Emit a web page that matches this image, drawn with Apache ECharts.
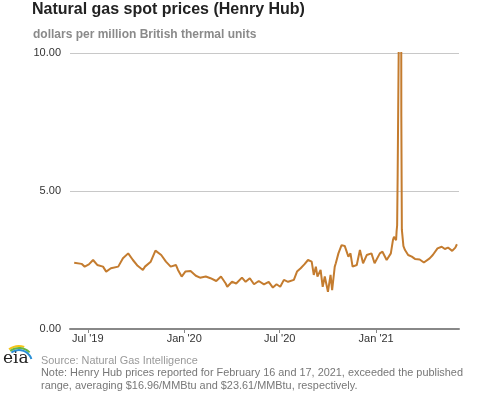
<!DOCTYPE html>
<html><head><meta charset="utf-8">
<script src="https://cdn.jsdelivr.net/npm/echarts@6/dist/echarts.min.js"></script>
<style>html,body{margin:0;padding:0;background:#fff}#c{width:477px;height:393px}</style>
</head><body><div id="c"></div>
<script>
const dates = [
'2019-06-05','2019-06-19','2019-06-25','2019-07-03','2019-07-11','2019-07-19','2019-07-30','2019-08-05','2019-08-14','2019-08-28',
'2019-09-06','2019-09-16','2019-09-25','2019-10-04','2019-10-14','2019-10-18','2019-10-29','2019-11-07','2019-11-18','2019-11-27',
'2019-12-06','2019-12-16','2019-12-20','2019-12-27','2020-01-03','2020-01-13','2020-01-23','2020-01-31','2020-02-11','2020-02-20',
'2020-03-02','2020-03-11','2020-03-20','2020-03-23','2020-04-01','2020-04-09','2020-04-20','2020-04-27','2020-05-05','2020-05-13',
'2020-05-22','2020-06-01','2020-06-10','2020-06-18','2020-06-25','2020-07-02','2020-07-09','2020-07-17','2020-07-28','2020-08-03',
'2020-08-10','2020-08-17','2020-08-24','2020-08-31','2020-09-04','2020-09-08','2020-09-11','2020-09-17','2020-09-21','2020-09-25',
'2020-10-01','2020-10-06','2020-10-09','2020-10-14','2020-10-16','2020-10-21','2020-10-27','2020-11-02','2020-11-09','2020-11-13',
'2020-11-17','2020-11-25','2020-12-01','2020-12-07','2020-12-14','2020-12-23','2020-12-29','2021-01-08','2021-01-13','2021-01-21',
'2021-01-29','2021-02-02','2021-02-04','2021-02-08','2021-02-09','2021-02-10','2021-02-11','2021-02-12','2021-02-16','2021-02-17',
'2021-02-18','2021-02-19','2021-02-22','2021-02-25','2021-03-03','2021-03-10','2021-03-16','2021-03-25','2021-04-02','2021-04-05',
'2021-04-13','2021-04-19','2021-04-28','2021-05-06','2021-05-12','2021-05-18','2021-05-26','2021-06-01','2021-06-04'
];
const prices = [
2.40,2.36,2.26,2.34,2.50,2.32,2.26,2.08,2.20,2.26,
2.56,2.74,2.50,2.29,2.14,2.26,2.44,2.84,2.68,2.44,
2.26,2.32,2.14,1.90,2.08,2.10,1.93,1.86,1.90,1.84,
1.74,1.90,1.65,1.53,1.71,1.65,1.86,1.71,1.84,1.62,
1.74,1.62,1.71,1.50,1.62,1.53,1.78,1.71,1.78,2.08,
2.20,2.34,2.50,2.44,1.96,2.26,1.90,2.14,1.53,1.90,
1.35,1.96,1.41,2.26,2.38,2.74,3.04,3.01,2.62,2.74,
2.26,2.32,2.86,2.38,2.68,2.74,2.38,2.74,2.80,2.50,
2.74,3.22,3.34,3.22,3.55,3.75,5.60,7.90,16.96,23.61,
7.70,3.60,3.00,2.86,2.68,2.62,2.54,2.52,2.41,2.39,
2.56,2.68,2.92,2.98,2.90,2.95,2.83,2.95,3.07
];
const xTickDates = ['2019-07-01','2020-01-01','2020-07-01','2021-01-01'];
const monthNames = ['Jan','Feb','Mar','Apr','May','Jun','Jul','Aug','Sep','Oct','Nov','Dec'];

const toTs = s => { const p = s.split('-').map(Number); return Date.UTC(p[0], p[1]-1, p[2]); };
const xTickTs = xTickDates.map(toTs);
const seriesData = dates.map((d, i) => [toTs(d), prices[i]]);

const chart = echarts.init(document.getElementById('c'), null, {renderer: 'canvas'});
const FONT = 'Liberation Sans, Arial, sans-serif';
chart.setOption({
  animation: false,
  textStyle: {fontFamily: FONT},
  grid: {left: 70, right: 18, top: 53, bottom: 64},
  title: [
    {text: 'Natural gas spot prices (Henry Hub)', left: 32, top: 2, padding: 0,
     textStyle: {fontSize: 16, fontWeight: 'bold', color: '#222', fontFamily: FONT}},
    {text: 'dollars per million British thermal units', left: 33, top: 29, padding: 0,
     textStyle: {fontSize: 12, fontWeight: 'bold', color: '#8a8a8a', fontFamily: FONT}}
  ],
  xAxis: {
    type: 'value',
    min: toTs('2019-05-28'), max: toTs('2021-06-08'),
    axisLine: {lineStyle: {color: '#888', width: 2}},
    axisTick: {show: true, customValues: xTickTs, length: 4, lineStyle: {color: '#888', width: 1}},
    axisLabel: {customValues: xTickTs, margin: 4, fontSize: 11, color: '#333', fontFamily: FONT,
      formatter: v => { const d = new Date(v); return monthNames[d.getUTCMonth()] + " '" + String(d.getUTCFullYear()).slice(2); }},
    splitLine: {show: false}
  },
  yAxis: {
    type: 'value', min: 0, max: 10, interval: 5,
    axisLine: {show: false}, axisTick: {show: false},
    axisLabel: {margin: 9, fontSize: 11, color: '#333', fontFamily: FONT, formatter: v => v.toFixed(2)},
    splitLine: {lineStyle: {color: '#c8c8c8', width: 1}}
  },
  series: [{
    type: 'line', data: seriesData, showSymbol: false, clip: true,
    lineStyle: {color: '#c47c2f', width: 2}, itemStyle: {color: '#c47c2f'}
  }],
  graphic: [
    {type: 'text', left: 41, top: 355, style: {text: 'Source: Natural Gas Intelligence', font: '10.9px ' + FONT, fill: '#999'}},
    {type: 'text', left: 41, top: 367, style: {text: 'Note: Henry Hub prices reported for February 16 and 17, 2021, exceeded the published', font: '10.9px ' + FONT, fill: '#777'}},
    {type: 'text', left: 41, top: 380, style: {text: 'range, averaging $16.96/MMBtu and $23.61/MMBtu, respectively.', font: '10.9px ' + FONT, fill: '#777'}},
    {type: 'text', left: 3, top: 350, style: {text: 'eia', font: '17px DejaVu Serif, serif', fill: '#222'}},
    {type: 'arc', shape: {cx: 19, cy: 363, r: 17, startAngle: Math.PI*1.3, endAngle: Math.PI*1.6}, style: {stroke: '#f5c518', lineWidth: 2, fill: null}},
    {type: 'arc', shape: {cx: 19, cy: 363, r: 15, startAngle: Math.PI*1.3, endAngle: Math.PI*1.75}, style: {stroke: '#66b545', lineWidth: 2, fill: null}},
    {type: 'arc', shape: {cx: 19, cy: 363, r: 13, startAngle: Math.PI*1.3, endAngle: Math.PI*1.9}, style: {stroke: '#2a8fd6', lineWidth: 2, fill: null}}
  ]
});
</script></body></html>
